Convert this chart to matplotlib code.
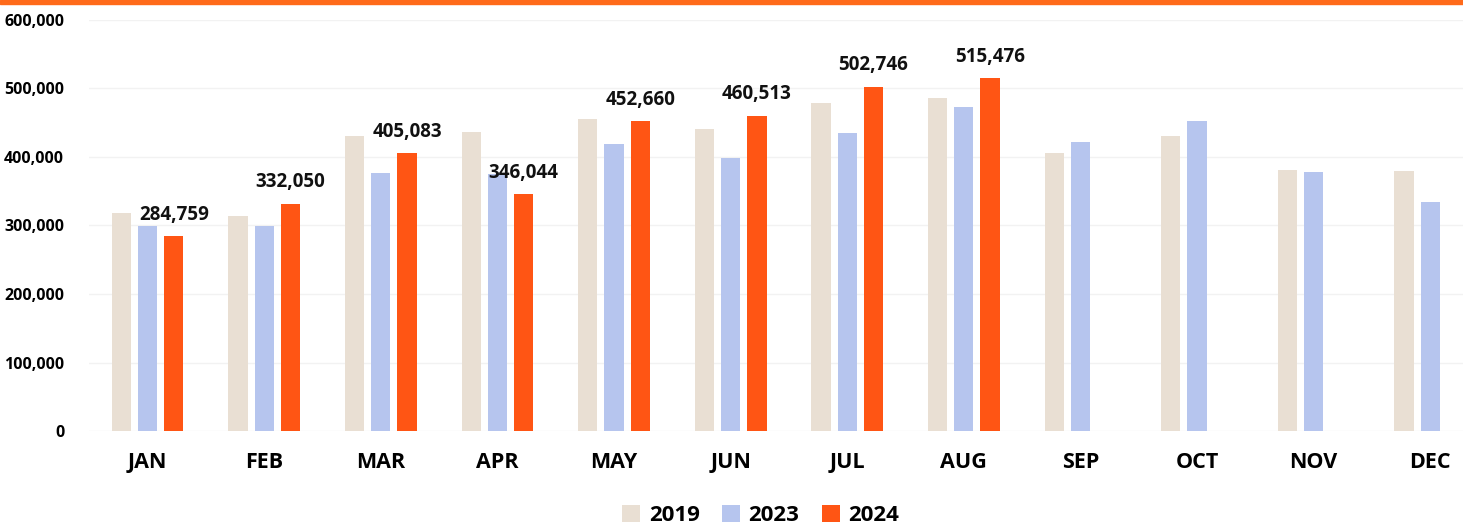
import matplotlib.pyplot as plt
import numpy as np
from matplotlib.patches import Rectangle

# monthly values
months = ["JAN", "FEB", "MAR", "APR", "MAY", "JUN", "JUL", "AUG", "SEP", "OCT", "NOV", "DEC"]
v2019 = [318000, 314000, 431000, 436000, 455000, 441000, 479000, 486000, 406000, 431000, 381000, 380000]
v2023 = [299000, 299000, 377000, 375000, 419000, 399000, 435000, 473000, 422000, 453000, 378000, 334000]
v2024 = [284759, 332050, 405083, 346044, 452660, 460513, 502746, 515476]

c2019 = "#E9DFD3"
c2023 = "#B6C5EE"
c2024 = "#FF5514"

plt.rcParams['font.family'] = ['Open Sans', 'DejaVu Sans']

fig = plt.figure(figsize=(14.63, 5.25), dpi=100)
ax = fig.add_axes([0.061, 0.179, 0.939, 0.783])

x = np.arange(len(months))
w = 0.165
off = 0.225
ax.bar(x - off, v2019, w, color=c2019, label="2019", zorder=2)
ax.bar(x, v2023, w, color=c2023, label="2023", zorder=2)
bars = ax.bar(x[:len(v2024)] + off, v2024, w, color=c2024, label="2024", zorder=2)

for b, v in zip(bars, v2024):
    ax.annotate(f"{v:,}", (b.get_x() + b.get_width() / 2, v), xytext=(0, 8),
                textcoords="offset points", ha="center", va="bottom",
                fontsize=13.5, fontweight="bold", color="#111111")

ax.set_ylim(0, 600000)
ax.set_xlim(-0.5, 11.28)
ax.set_yticks(range(0, 600001, 100000))
ax.set_yticklabels([f"{t:,}" for t in range(0, 600001, 100000)], fontsize=11.5, fontweight="bold")
ax.set_xticks(x)
ax.set_xticklabels(months, fontsize=15.5, fontweight="bold")
ax.tick_params(axis="both", length=0)
ax.tick_params(axis="x", pad=15)
ax.tick_params(axis="y", pad=18)
ax.yaxis.grid(True, color="#F2F2F2", linewidth=1, zorder=0)
for s in ax.spines.values():
    s.set_visible(False)

fig.legend(loc="lower center", bbox_to_anchor=(0.52, -0.04), ncol=3, frameon=False,
           prop={"size": 16, "weight": "bold"}, handlelength=0.8, handleheight=0.8,
           handletextpad=0.4, columnspacing=1.0)

# orange strip across the top of the page
fig.add_artist(Rectangle((0, 0.993), 1, 0.007, transform=fig.transFigure, color="#FF6A1A"))

fig.savefig("out.png", dpi=100)
